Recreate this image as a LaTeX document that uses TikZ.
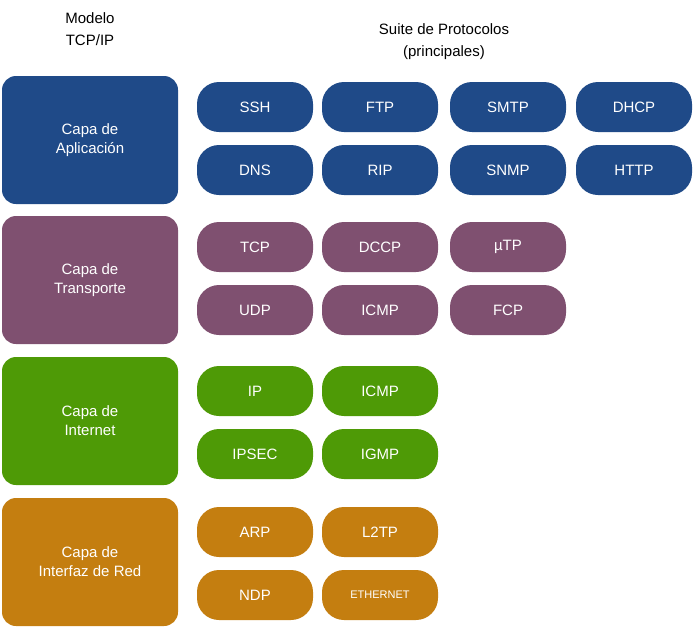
\documentclass[tikz,border=0pt]{standalone}
\usepackage{fontspec}
\setmainfont{Liberation Sans}
\definecolor{cblue}{RGB}{31,74,136}
\definecolor{cpurp}{RGB}{127,80,112}
\definecolor{cgreen}{RGB}{78,154,6}
\definecolor{corange}{RGB}{196,126,16}
\begin{document}
\begin{tikzpicture}[x=1pt,y=-1pt,
 big/.style={rounded corners=14pt,minimum width=176pt,minimum height=128pt,text=white,align=center,font=\fontsize{15}{19}\selectfont,inner sep=0pt},
 pill/.style={rounded corners=22pt,minimum width=116pt,minimum height=50pt,text=white,font=\fontsize{15}{18}\selectfont,inner sep=0pt},
 hdr/.style={align=center,font=\fontsize{15}{22}\selectfont,text=black}]
\useasboundingbox (0,0) rectangle (693,627);
\node[hdr] (h1) at (90,29) {Modelo\\TCP/IP};
\node[hdr] (h2) at (444,42) {Suite de Protocolos\\(principales)};
\node[big,fill=cblue] (l1) at (90,140) {Capa de\\Aplicación};
\node[big,fill=cpurp] (l2) at (90,280) {Capa de\\Transporte};
\node[big,fill=cgreen] (l3) at (90,421) {Capa de\\Internet};
\node[big,fill=corange] (l4) at (90,562) {Capa de\\Interfaz de Red};
\foreach \n/\x/\y/\t in {a1/255/107/SSH,a2/380/107/FTP,a3/508/107/SMTP,a4/634/107/DHCP,
 a5/255/170/DNS,a6/380/170/RIP,a7/508/170/SNMP,a8/634/170/HTTP}
 \node[pill,fill=cblue] (\n) at (\x,\y) {\t};
\foreach \n/\x/\y/\t in {b1/255/247/TCP,b2/380/247/DCCP,b3/508/247/µTP,
 b4/255/310/UDP,b5/380/310/ICMP,b6/508/310/FCP}
 \node[pill,fill=cpurp] (\n) at (\x,\y) {\t};
\foreach \n/\x/\y/\t in {c1/255/391/IP,c2/380/391/ICMP,c3/255/454/IPSEC,c4/380/454/IGMP}
 \node[pill,fill=cgreen] (\n) at (\x,\y) {\t};
\foreach \n/\x/\y/\t in {d1/255/532/ARP,d2/380/532/L2TP,d3/255/595/NDP}
 \node[pill,fill=corange] (\n) at (\x,\y) {\t};
\node[pill,fill=corange,font=\fontsize{11}{13}\selectfont] (d4) at (380,595) {ETHERNET};
\end{tikzpicture}
\end{document}
